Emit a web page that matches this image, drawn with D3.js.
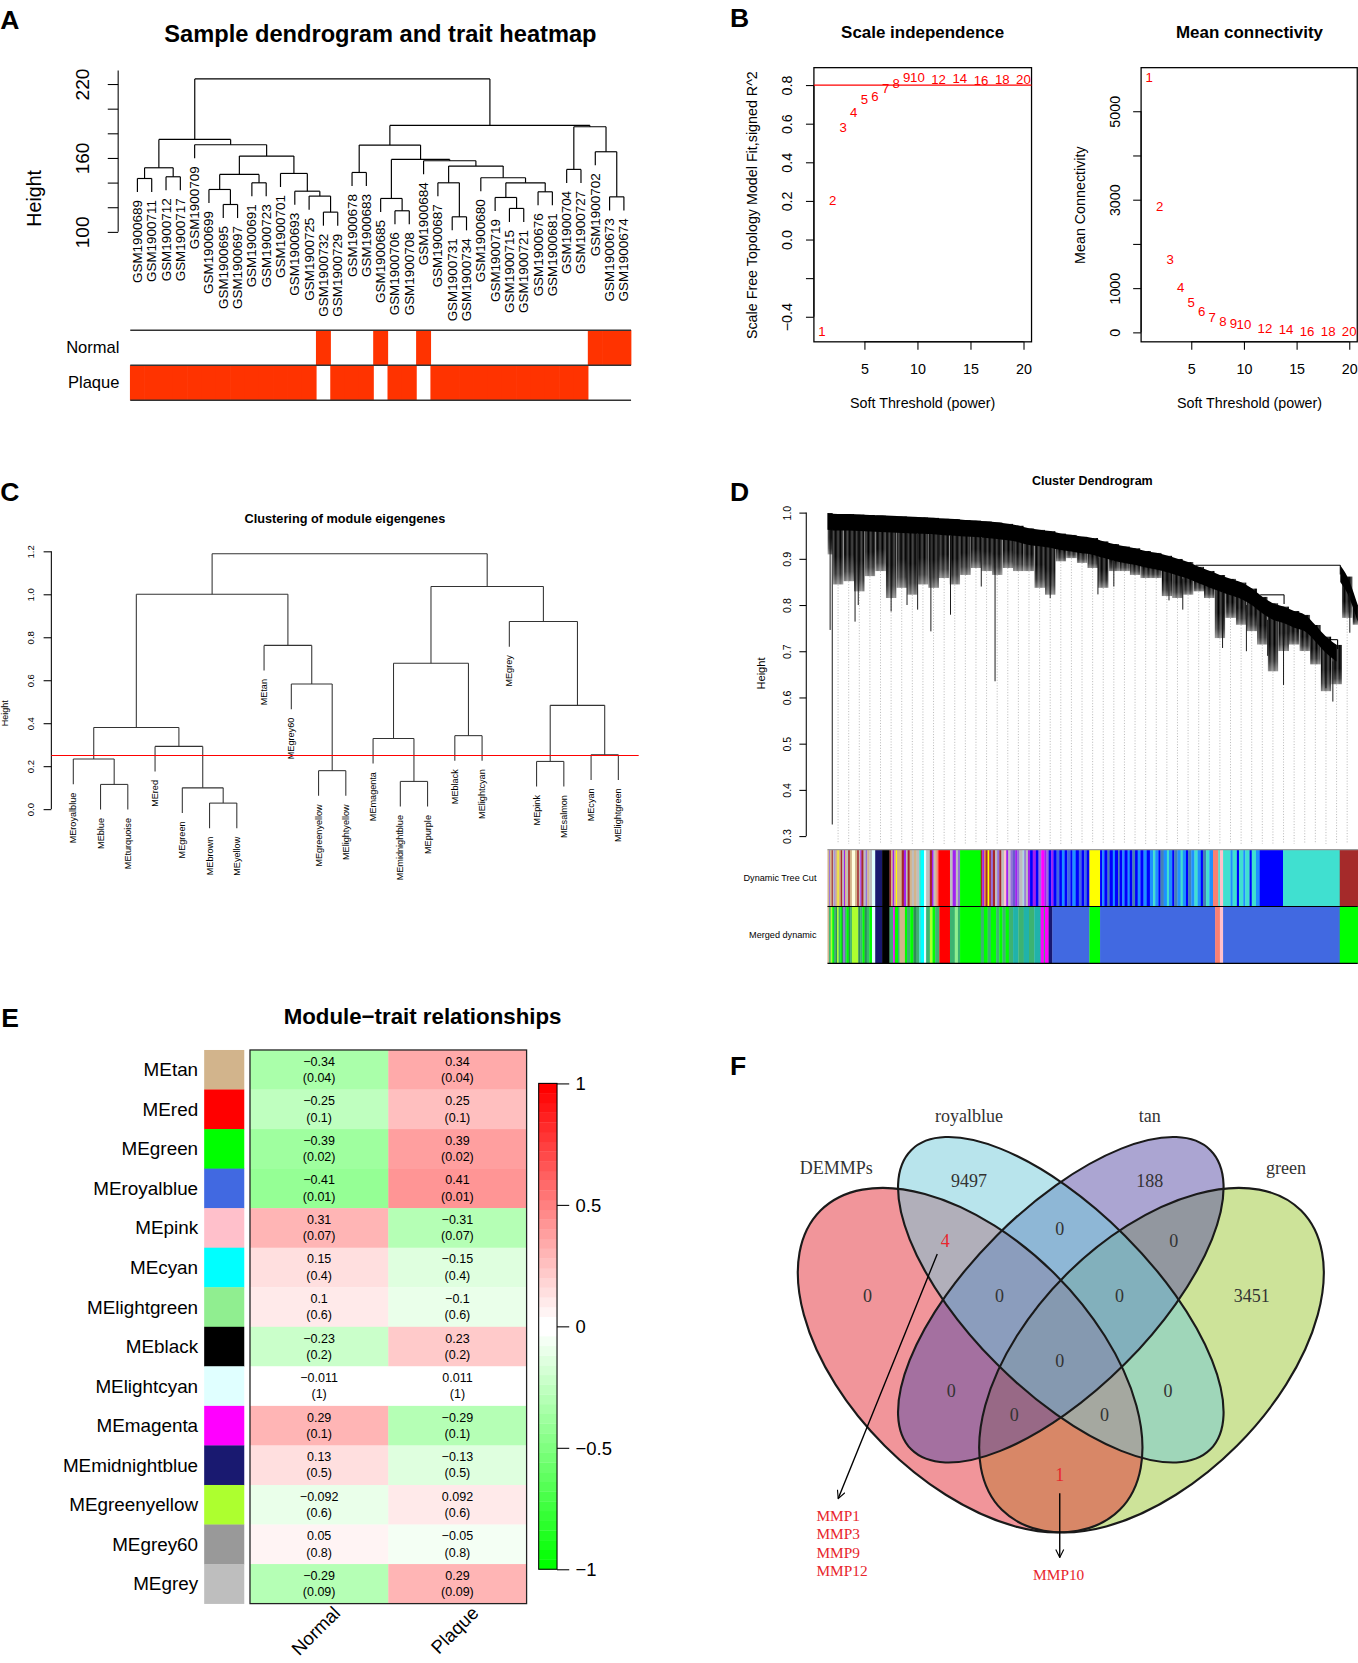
<!DOCTYPE html>
<html><head><meta charset="utf-8">
<script src="https://cdn.jsdelivr.net/npm/d3@7"></script>
<style>html,body{margin:0;padding:0;background:#fff}svg{display:block}</style>
</head><body>
<script>
// ================= DATA =================
// Panel A: sample dendrogram
const sampleLabels=['GSM1900689','GSM1900711','GSM1900712','GSM1900717','GSM1900709','GSM1900699','GSM1900695','GSM1900697','GSM1900691','GSM1900723','GSM1900701','GSM1900693','GSM1900725','GSM1900732','GSM1900729','GSM1900678','GSM1900683','GSM1900685','GSM1900706','GSM1900708','GSM1900684','GSM1900687','GSM1900731','GSM1900734','GSM1900680','GSM1900719','GSM1900715','GSM1900721','GSM1900676','GSM1900681','GSM1900704','GSM1900727','GSM1900702','GSM1900673','GSM1900674'];
const sampleMerges=[[-1,-2],[-3,-4],[1,2],[-7,-8],[-6,4],[-9,-10],[5,6],[-14,-15],[-13,8],[-12,9],[-11,10],[7,11],[-5,12],[3,13],[-16,-17],[-19,-20],[-18,16],[-23,-24],[-22,18],[-27,-28],[-26,20],[-29,-30],[21,22],[-25,23],[19,24],[-21,25],[17,26],[15,27],[-31,-32],[-34,-35],[-33,30],[29,31],[28,32],[14,33]];
const sampleHeights=[143.3,144.7,152.0,122.2,134.4,139.8,146.6,116.0,129.0,133.0,147.4,161.5,170.7,175.0,148.2,117.1,127.1,112.2,139.8,119.0,127.9,132.5,139.8,143.9,153.4,157.7,158.8,170.4,150.7,128.4,165.0,185.3,186.4,224.1];
const sampleHang=11;
const sampleYTicks=[100,120,140,160,180,200,220];
const sampleYLabels=[100,160,220];
const traitNames=['Normal','Plaque'];
const sampleIsNormal=[0,0,0,0,0, 0,0,0,0,0, 0,0,0,1,0, 0,0,1,0,0, 1,0,0,0,0, 0,0,0,0,0, 0,0,1,1,1];

// Panel B: soft threshold
const powers=[1,2,3,4,5,6,7,8,9,10,12,14,16,18,20];
const sftR2=[-0.477,0.203,0.578,0.656,0.724,0.741,0.784,0.807,0.838,0.838,0.829,0.836,0.824,0.829,0.829];
const meanK=[5755,2847,1639,1020,680,468,332,242,189,166,76,53,30,15,15];
const r2Cut=0.8;
const powerTicks=[5,10,15,20];
const r2Ticks=[-0.4,-0.2,0,0.2,0.4,0.6,0.8];
const r2Labels=['−0.4',null,'0.0','0.2','0.4','0.6','0.8'];
const kTicks=[0,1000,2000,3000,4000,5000];
const kLabels=['0','1000',null,'3000',null,'5000'];

// Panel C: module eigengene clustering
const meLabels=['MEroyalblue','MEblue','MEturquoise','MEred','MEgreen','MEbrown','MEyellow','MEtan','MEgrey60','MEgreenyellow','MElightyellow','MEmagenta','MEmidnightblue','MEpurple','MEblack','MElightcyan','MEgrey','MEpink','MEsalmon','MEcyan','MElightgreen'];
const meMerges=[[-2,-3],[-1,1],[-6,-7],[-5,3],[-4,4],[2,5],[-10,-11],[-9,7],[-8,8],[6,9],[-13,-14],[-12,11],[-15,-16],[12,13],[-18,-19],[-20,-21],[15,16],[-17,17],[14,18],[10,19]];
const meHeights=[0.115,0.233,0.028,0.099,0.292,0.380,0.179,0.582,0.762,1.0,0.129,0.329,0.342,0.679,0.222,0.253,0.483,0.873,1.036,1.189];
const meHang=0.117;
const meCut=0.25;
const meTicks=[0,0.2,0.4,0.6,0.8,1.0,1.2];

// Panel D: gene dendrogram (envelope read at 51 leaf-order positions, 0..1000)
const dPos=[0,20,40,60,80,100,120,140,160,180,200,220,240,260,280,300,320,340,360,380,400,420,440,460,480,500,520,540,560,580,600,620,640,660,680,700,720,740,760,780,800,820,840,860,880,900,920,940,960,980,1000];
const dTreeTop=[0.999,0.997,0.997,0.996,0.995,0.994,0.993,0.992,0.991,0.990,0.989,0.987,0.986,0.984,0.983,0.981,0.979,0.976,0.972,0.966,0.963,0.960,0.955,0.952,0.948,0.945,0.938,0.932,0.927,0.923,0.917,0.913,0.907,0.900,0.893,0.883,0.874,0.865,0.857,0.849,0.836,0.818,0.804,0.797,0.787,0.779,0.757,0.732,0.714,0.862,0.800];
const dTreeBottom=[0.909,0.844,0.851,0.829,0.862,0.873,0.815,0.837,0.822,0.844,0.837,0.858,0.844,0.865,0.880,0.873,0.865,0.880,0.873,0.873,0.837,0.822,0.894,0.901,0.891,0.880,0.837,0.873,0.873,0.865,0.858,0.858,0.819,0.815,0.822,0.829,0.815,0.728,0.772,0.757,0.743,0.714,0.656,0.700,0.714,0.700,0.671,0.613,0.628,0.772,0.757];
const dClusterStart=49; // first sample of the right-most cluster
const dSpikes=[[9,0.325],[5,0.746],[52,0.764],[58,0.80],[120,0.786],[150,0.80],[170,0.79],[195,0.743],[232,0.779],[290,0.84],[316,0.635],[420,0.815],[510,0.823],[540,0.84],[644,0.81],[670,0.79],[745,0.707],[790,0.70],[830,0.69],[860,0.627],[940,0.62],[953,0.591],[985,0.74]];
const dMerges=[[694,967,0.886],[816,861,0.822],[944,962,0.725]];
const dTicks=[0.3,0.4,0.5,0.6,0.7,0.8,0.9,1.0];
const dRowNames=['Dynamic Tree Cut','Merged dynamic'];
const dynamicCut=[[3,'tan'],[5,'mediumpurple'],[8,'tan'],[10,'brown'],[13,'grey'],[15,'mediumpurple'],[19,'tan'],[21,'yellow'],[25,'tan'],[28,'brown'],[31,'grey'],[33,'purple'],[36,'tan'],[39,'grey'],[42,'brown'],[46,'tan'],[52,'lightyellow'],[56,'tan'],[59,'brown'],[62,'grey'],[64,'purple'],[68,'brown'],[72,'grey'],[75,'mediumpurple'],[79,'tan'],[84,'grey'],[90,'lightcyan'],[103,'midnightblue'],[117,'black'],[120,'brown'],[123,'tan'],[126,'purple'],[129,'tan'],[131,'yellow'],[140,'tan'],[144,'brown'],[148,'purple'],[151,'grey'],[155,'brown'],[159,'tan'],[163,'grey'],[168,'tan'],[173,'grey'],[176,'turquoise'],[182,'cyan'],[186,'lightcyan'],[193,'grey'],[197,'brown'],[200,'purple'],[203,'grey'],[206,'tan'],[209,'salmon'],[231,'red'],[236,'grey'],[242,'purple'],[246,'grey'],[250,'mediumpurple'],[289,'green'],[292,'brown'],[296,'purple'],[298,'orange'],[302,'brown'],[305,'yellow'],[308,'brown'],[312,'mediumpurple'],[316,'brown'],[320,'grey'],[324,'mediumpurple'],[328,'brown'],[333,'grey'],[337,'pink'],[341,'purple'],[345,'grey'],[349,'mediumpurple'],[354,'slateblue'],[358,'purple'],[362,'mediumpurple'],[368,'grey'],[371,'lightblue'],[374,'mediumpurple'],[378,'grey'],[382,'purple'],[387,'blue'],[393,'purple'],[398,'blue'],[403,'mediumpurple'],[409,'magenta'],[413,'purple'],[417,'mediumpurple'],[422,'blue'],[426,'purple'],[432,'blue'],[437,'royalblue'],[442,'blue'],[447,'dodgerblue'],[452,'blue'],[458,'royalblue'],[462,'blue'],[468,'dodgerblue'],[474,'blue'],[479,'royalblue'],[484,'blue'],[489,'royalblue'],[494,'blue'],[514,'yellow'],[518,'blue'],[522,'dodgerblue'],[528,'blue'],[532,'steelblue'],[538,'blue'],[542,'dodgerblue'],[548,'blue'],[551,'steelblue'],[556,'blue'],[560,'dodgerblue'],[566,'blue'],[570,'dodgerblue'],[575,'blue'],[580,'steelblue'],[585,'blue'],[590,'dodgerblue'],[596,'blue'],[602,'dodgerblue'],[608,'blue'],[614,'dodgerblue'],[618,'turquoise'],[624,'dodgerblue'],[628,'blue'],[634,'steelblue'],[640,'dodgerblue'],[644,'turquoise'],[650,'dodgerblue'],[654,'blue'],[660,'steelblue'],[666,'dodgerblue'],[670,'turquoise'],[676,'dodgerblue'],[680,'blue'],[686,'steelblue'],[692,'dodgerblue'],[698,'turquoise'],[704,'dodgerblue'],[708,'blue'],[714,'steelblue'],[720,'turquoise'],[727,'dodgerblue'],[737,'salmon'],[740,'turquoise'],[746,'pink'],[760,'turquoise'],[764,'dodgerblue'],[772,'turquoise'],[776,'blue'],[784,'turquoise'],[788,'dodgerblue'],[796,'turquoise'],[800,'blue'],[808,'turquoise'],[815,'dodgerblue'],[859,'blue'],[966,'turquoise'],[1000,'brown']];
const mergedDynamic=[[3,'tan'],[6,'mediumseagreen'],[9,'greenyellow'],[12,'green'],[15,'mediumseagreen'],[18,'seagreen'],[21,'greenyellow'],[24,'mediumseagreen'],[27,'green'],[30,'seagreen'],[33,'mediumpurple'],[36,'mediumseagreen'],[40,'green'],[43,'seagreen'],[46,'mediumseagreen'],[58,'greenyellow'],[62,'seagreen'],[66,'mediumseagreen'],[70,'green'],[74,'seagreen'],[79,'mediumseagreen'],[84,'green'],[90,'lightcyan'],[103,'midnightblue'],[117,'black'],[124,'mediumseagreen'],[127,'magenta'],[133,'green'],[136,'mediumseagreen'],[146,'tan'],[150,'green'],[156,'mediumseagreen'],[162,'green'],[168,'seagreen'],[173,'mediumseagreen'],[176,'turquoise'],[182,'cyan'],[186,'lightcyan'],[193,'mediumseagreen'],[198,'greenyellow'],[203,'green'],[211,'mediumseagreen'],[231,'red'],[240,'mediumseagreen'],[246,'lightgreen'],[250,'mediumseagreen'],[289,'green'],[295,'mediumseagreen'],[302,'green'],[308,'mediumseagreen'],[318,'green'],[324,'mediumseagreen'],[330,'green'],[336,'mediumseagreen'],[342,'green'],[350,'mediumseagreen'],[360,'lightseagreen'],[370,'mediumseagreen'],[380,'lightseagreen'],[390,'mediumseagreen'],[402,'lightseagreen'],[408,'magenta'],[410,'mediumseagreen'],[417,'magenta'],[424,'midnightblue'],[494,'royalblue'],[514,'green'],[731,'royalblue'],[740,'salmon'],[746,'pink'],[966,'royalblue'],[1000,'green']];

// Panel E: module-trait relationships
const eModules=['MEtan','MEred','MEgreen','MEroyalblue','MEpink','MEcyan','MElightgreen','MEblack','MElightcyan','MEmagenta','MEmidnightblue','MEgreenyellow','MEgrey60','MEgrey'];
const eModuleColors=['tan','red','green','royalblue','pink','cyan','lightgreen','black','lightcyan','magenta','midnightblue','greenyellow','grey60','grey'];
const eTraits=['Normal','Plaque'];
const corNormal=[-0.34,-0.25,-0.39,-0.41,0.31,0.15,0.1,-0.23,-0.011,0.29,0.13,-0.092,0.05,-0.29];
const corPlaque=[0.34,0.25,0.39,0.41,-0.31,-0.15,-0.1,0.23,0.011,-0.29,-0.13,0.092,-0.05,0.29];
const pValues=[0.04,0.1,0.02,0.01,0.07,0.4,0.6,0.2,1,0.1,0.5,0.6,0.8,0.09];
const legendTicks=[1,0.5,0,-0.5,-1];

// Panel F: Venn
const vennSets=['DEMMPs','royalblue','tan','green'];
const vennCounts={DEMMPs:0,royalblue:9497,tan:188,green:3451,'D&R':4,'R&T':0,'T&G':0,'D&R&T':0,'R&T&G':0,'all':0,'D&T':0,'R&G':0,'D&T&G':0,'D&R&G':0,'D&G':1};
const vennGenesDR=['MMP1','MMP3','MMP9','MMP12'];
const vennGenesDG=['MMP10'];

// ================= RENDER =================
const SANS="'Liberation Sans', Arial, Helvetica, sans-serif";
const SERIF="'Liberation Serif', 'Times New Roman', Times, serif";
const RCOL={green:'#00ff00',grey:'#bebebe',purple:'#a020f0',grey60:'#999999'};
const rc=c=>RCOL[c]||c;
const W=1280,H=1568;
const svg=d3.select('body').append('svg').attr('width',1358).attr('height',1663)
  .attr('viewBox',`0 0 ${W} ${H}`).style('font-family',SANS);
svg.append('rect').attr('width',W).attr('height',H).attr('fill','#fff');
const defs=svg.append('defs');

function txt(g,x,y,t,o={}){
  const e=g.append('text').attr('x',x).attr('y',y).text(t)
    .attr('font-size',o.size||12).attr('font-family',o.family||SANS)
    .attr('fill',o.fill||'#000');
  if(o.bold) e.attr('font-weight','bold');
  if(o.anchor) e.attr('text-anchor',o.anchor);
  if(o.base) e.attr('dominant-baseline',o.base);
  if(o.rot!=null) e.attr('transform',`rotate(${o.rot},${x},${y})`);
  return e;
}
[['A',0,27],['B',688,25],['C',0,472],['D',688,472],['E',1,968],['F',688,1014]].forEach(([t,x,y])=>txt(svg,x,y,t,{size:25,bold:true}));

function rAxis(g,orient,scale,values,labels,tickLen,labelOffset,fontSize,lineExt){
  const gen=(orient==='left'?d3.axisLeft:d3.axisBottom)(scale).tickValues(values).tickSize(tickLen)
    .tickFormat((d,i)=>labels[i]==null?'':labels[i]);
  g.call(gen);
  g.select('.domain').remove();
  const ext=lineExt||d3.extent(values);
  if(orient==='left') g.append('line').attr('x1',0).attr('x2',0).attr('y1',scale(ext[0])).attr('y2',scale(ext[1])).attr('stroke','#000');
  else g.append('line').attr('y1',0).attr('y2',0).attr('x1',scale(ext[0])).attr('x2',scale(ext[1])).attr('stroke','#000');
  g.selectAll('.tick line').attr('stroke','#000');
  const t=g.selectAll('.tick text').attr('font-size',fontSize).attr('font-family',SANS).attr('fill','#000');
  if(orient==='left') t.attr('x',0).attr('dy',null).attr('text-anchor','middle').attr('dominant-baseline','central')
     .attr('transform',`translate(${-labelOffset},0) rotate(-90)`);
  else t.attr('y',labelOffset).attr('dy',null).attr('dominant-baseline','central');
}

function treeSegments(labels,merges,heights,xpos,hang){
  const nodes=[],segs=[],leafEnds=[];
  merges.forEach((m,k)=>{
    const h=heights[k];
    const ch=m.map(c=>c<0?{x:xpos(labels[-c-1]),h:h-hang,leaf:-c-1}:{x:nodes[c-1].x,h:nodes[c-1].h});
    ch.forEach(c=>{segs.push([c.x,c.h,c.x,h]); if(c.leaf!==undefined) leafEnds[c.leaf]={x:c.x,h:c.h};});
    segs.push([ch[0].x,h,ch[1].x,h]);
    nodes.push({x:(ch[0].x+ch[1].x)/2,h});
  });
  return {segs,leafEnds};
}

// ---------- Panel A ----------
{
  const g=svg.append('g');
  txt(g,358.5,39.5,'Sample dendrogram and trait heatmap',{size:22.3,bold:true,anchor:'middle'});
  const x=d3.scaleBand().domain(sampleLabels).range([122.6,594.8]);
  const xc=l=>x(l)+x.bandwidth()/2;
  const y=d3.scaleLinear().domain([100,220]).range([218.6,79.2]);
  const ax=g.append('g').attr('transform','translate(111.2,0)');
  rAxis(ax,'left',y,sampleYTicks,sampleYTicks.map(v=>sampleYLabels.includes(v)?String(v):null),9.8,33.5,18,[100,231]);
  txt(g,31.5,187,'Height',{size:18.5,anchor:'middle',base:'central',rot:-90});
  const {segs,leafEnds}=treeSegments(sampleLabels,sampleMerges,sampleHeights,xc,sampleHang);
  g.append('g').selectAll('line').data(segs).join('line')
    .attr('x1',d=>d[0]).attr('y1',d=>y(d[1])).attr('x2',d=>d[2]).attr('y2',d=>y(d[3]))
    .attr('stroke','#000').attr('stroke-width',1.1);
  sampleLabels.forEach((l,i)=>{
    const e=leafEnds[i];
    txt(g,e.x,y(e.h)+7.5,l,{size:12.7,anchor:'end',base:'central',rot:-90});
  });
  const yt=d3.scaleBand().domain(traitNames).range([311.3,377.4]);
  sampleLabels.forEach((l,i)=>{
    traitNames.forEach((t,j)=>{
      const on=(j===0)===(sampleIsNormal[i]===1);
      if(on) g.append('rect').attr('x',x(l)-0.3).attr('y',yt(t)).attr('width',x.bandwidth()+0.6).attr('height',yt.bandwidth())
        .attr('fill','#ff3300');
    });
  });
  [311.3,344.35,377.4].forEach(v=>g.append('line').attr('x1',122.6).attr('x2',594.8).attr('y1',v).attr('y2',v).attr('stroke','#333').attr('stroke-width',1.4));
  traitNames.forEach(t=>txt(g,112.4,yt(t)+yt.bandwidth()/2,t,{size:15.6,anchor:'end',base:'central'}));
}

// ---------- Panel B ----------
{
  const g=svg.append('g');
  const x1=d3.scaleLinear().domain([0.24,20.76]).range([767.2,972.4]);
  const y1=d3.scaleLinear().domain([-0.53,0.89]).range([322.3,63.8]);
  txt(g,869.7,36,'Scale independence',{size:16,bold:true,anchor:'middle'});
  g.append('rect').attr('x',767.2).attr('y',63.8).attr('width',205.2).attr('height',258.5).attr('fill','none').attr('stroke','#000').attr('stroke-width',1.2);
  rAxis(g.append('g').attr('transform','translate(0,322.3)'),'bottom',x1,powerTicks,powerTicks.map(String),7.5,25.2,13.5);
  rAxis(g.append('g').attr('transform','translate(767.2,0)'),'left',y1,r2Ticks,r2Labels,7.5,25.5,13.5);
  txt(g,869.7,385,'Soft Threshold (power)',{size:13.5,anchor:'middle'});
  txt(g,709,193.4,'Scale Free Topology Model Fit,signed R^2',{size:13.5,anchor:'middle',base:'central',rot:-90});
  g.append('line').attr('x1',767.2).attr('x2',972.4).attr('y1',y1(r2Cut)).attr('y2',y1(r2Cut)).attr('stroke','#ff0000').attr('stroke-width',1.2);
  powers.forEach((p,i)=>txt(g,x1(p),y1(sftR2[i]),String(p),{size:12.5,fill:'#ff0000',anchor:'middle',base:'central'}));
  const x2=d3.scaleLinear().domain([0.24,20.76]).range([1075.7,1279.5]);
  const y2=d3.scaleLinear().domain([-214.6,5984.6]).range([322.3,63.8]);
  txt(g,1177.9,36,'Mean connectivity',{size:16,bold:true,anchor:'middle'});
  g.append('rect').attr('x',1075.7).attr('y',63.8).attr('width',203.8).attr('height',258.5).attr('fill','none').attr('stroke','#000').attr('stroke-width',1.2);
  rAxis(g.append('g').attr('transform','translate(0,322.3)'),'bottom',x2,powerTicks,powerTicks.map(String),7.5,25.2,13.5);
  rAxis(g.append('g').attr('transform','translate(1075.7,0)'),'left',y2,kTicks,kLabels,7.5,24.8,13.5);
  txt(g,1177.9,385,'Soft Threshold (power)',{size:13.5,anchor:'middle'});
  txt(g,1018,193.4,'Mean Connectivity',{size:13.5,anchor:'middle',base:'central',rot:-90});
  powers.forEach((p,i)=>txt(g,x2(p),y2(meanK[i]),String(p),{size:12.5,fill:'#ff0000',anchor:'middle',base:'central'}));
}

// ---------- Panel C ----------
{
  const g=svg.append('g');
  txt(g,325,492.8,'Clustering of module eigengenes',{size:12,bold:true,anchor:'middle'});
  const x=d3.scalePoint().domain(meLabels).range([68.9,582.8]);
  const y=d3.scaleLinear().domain([0,1.2]).range([762.9,519.8]);
  rAxis(g.append('g').attr('transform','translate(48.2,0)'),'left',y,meTicks,meTicks.map(v=>v.toFixed(1)),7.3,19.6,9);
  txt(g,4.5,672.6,'Height',{size:8.5,anchor:'middle',base:'central',rot:-90});
  const {segs,leafEnds}=treeSegments(meLabels,meMerges,meHeights,l=>x(l),meHang);
  g.append('g').selectAll('line').data(segs).join('line')
    .attr('x1',d=>d[0]).attr('y1',d=>y(d[1])).attr('x2',d=>d[2]).attr('y2',d=>y(d[3]))
    .attr('stroke','#333').attr('stroke-width',1);
  meLabels.forEach((l,i)=>{const e=leafEnds[i]; txt(g,e.x,y(e.h)+8,l,{size:8.6,anchor:'end',base:'central',rot:-90});});
  g.append('line').attr('x1',48.2).attr('x2',602).attr('y1',y(meCut)).attr('y2',y(meCut)).attr('stroke','#ff0000').attr('stroke-width',1);
}

// ---------- Panel D ----------
{
  const g=svg.append('g');
  txt(g,1029.7,457.6,'Cluster Dendrogram',{size:11.8,bold:true,anchor:'middle'});
  const x=d3.scaleLinear().domain([0,1000]).range([780,1280]);
  const y=d3.scaleLinear().domain([0.3,1.0]).range([788.3,483.3]);
  rAxis(g.append('g').attr('transform','translate(760,0)'),'left',y,dTicks,dTicks.map(v=>v.toFixed(1)),6.5,18,10);
  txt(g,717,635,'Height',{size:10.5,anchor:'middle',base:'central',rot:-90});
  dPos.forEach((u,i)=>{ if(i===0||i===dPos.length-1) return;
    g.append('line').attr('x1',x(u)).attr('x2',x(u)).attr('y1',y(dTreeBottom[i])).attr('y2',y(0.283))
      .attr('stroke','#b0b0b0').attr('stroke-width',0.8).attr('stroke-dasharray','1,1.6');
  });
  const pat=defs.append('pattern').attr('id','dStripes').attr('patternUnits','userSpaceOnUse').attr('width',1.2).attr('height',20);
  pat.append('rect').attr('x',0).attr('y',0).attr('width',1.02).attr('height',20).attr('fill','#000');
  const grad=defs.append('linearGradient').attr('id','dFade').attr('x1',0).attr('y1',0).attr('x2',0).attr('y2',1);
  [[0,1],[0.6,1],[0.85,0.8],[1,0.5]].forEach(([o,op])=>grad.append('stop').attr('offset',o).attr('stop-color','#fff').attr('stop-opacity',op));
  defs.append('mask').attr('id','dMask').attr('maskContentUnits','objectBoundingBox')
    .append('rect').attr('width',1).attr('height',1).attr('fill','url(#dFade)');
  dPos.forEach((u,i)=>{
    const u0=i===0?0:u-10, u1=i===dPos.length-1?1000:u+10;
    const a=Math.max(u0,i===dClusterStart?dMerges[0][1]:u0);
    g.append('rect').attr('x',x(a)).attr('width',x(u1)-x(a)+0.1).attr('y',y(dTreeTop[i])).attr('height',y(dTreeBottom[i])-y(dTreeTop[i]))
      .attr('fill','url(#dStripes)').attr('mask','url(#dMask)');
  });
  const band=0.036;
  const left=dPos.slice(0,dClusterStart).map((u,i)=>({u,t:dTreeTop[i]}));
  const right=[{u:dMerges[0][1],t:dMerges[0][2]}].concat(dPos.slice(dClusterStart).map((u,k)=>({u,t:dTreeTop[dClusterStart+k]})));
  const bandArea=d3.area().x(d=>x(d.u)).y0(d=>y(d.t)).y1(d=>y(d.t-band)).curve(d3.curveMonotoneX);
  [left,right].forEach(seg=>g.append('path').datum(seg).attr('d',bandArea).attr('fill','#000'));
  dSpikes.forEach(([u,h])=>{
    const i=Math.round(u/20);
    g.append('line').attr('x1',x(u)).attr('x2',x(u)).attr('y1',y(dTreeTop[i]-band)).attr('y2',y(h)).attr('stroke','#111').attr('stroke-width',0.9);
  });
  dMerges.forEach(([a,b,h])=>{
    g.append('line').attr('x1',x(a)).attr('x2',x(b)).attr('y1',y(h)).attr('y2',y(h)).attr('stroke','#000').attr('stroke-width',1);
    g.append('line').attr('x1',x(b)).attr('x2',x(b)).attr('y1',y(h)).attr('y2',y(h-0.02)).attr('stroke','#000').attr('stroke-width',1);
  });
  const yr=d3.scaleBand().domain(dRowNames).range([801,908.4]);
  [[dynamicCut,dRowNames[0]],[mergedDynamic,dRowNames[1]]].forEach(([segs,row])=>{
    let prev=0;
    segs.forEach(([end,col])=>{
      g.append('rect').attr('x',x(prev)).attr('y',yr(row)).attr('width',Math.max(0,x(end)-x(prev))+0.25).attr('height',yr.bandwidth())
        .attr('fill',rc(col));
      prev=end;
    });
    txt(g,769.6,yr(row)+yr.bandwidth()/2,row,{size:8.6,anchor:'end',base:'central'});
  });
  g.append('line').attr('x1',780).attr('x2',1280).attr('y1',801).attr('y2',801).attr('stroke','#999').attr('stroke-width',1.2);
  g.append('line').attr('x1',780).attr('x2',1280).attr('y1',854.7).attr('y2',854.7).attr('stroke','#000').attr('stroke-width',1);
  g.append('line').attr('x1',780).attr('x2',1280).attr('y1',908.4).attr('y2',908.4).attr('stroke','#000').attr('stroke-width',1.2);
}

// ---------- Panel E ----------
{
  const g=svg.append('g');
  txt(g,398.2,965.8,'Module−trait relationships',{size:21,bold:true,anchor:'middle'});
  const y=d3.scaleBand().domain(eModules).range([990,1512]);
  const x=d3.scaleBand().domain(eTraits).range([235.5,496.3]);
  const pal=v=>{const n=50,h=25;let i=Math.floor((v+1)/2*n);i=Math.max(0,Math.min(n-1,i));
    return i<h?d3.interpolateRgb('#00ff00','#ffffff')(i/(h-1)):d3.interpolateRgb('#ffffff','#ff0000')((i-h)/(h-1));};
  const fmt=v=>String(v).replace('-','−');
  eModules.forEach((m,i)=>{
    g.append('rect').attr('x',192.3).attr('y',y(m)).attr('width',37.8).attr('height',y.bandwidth()+0.3).attr('fill',rc(eModuleColors[i]));
    txt(g,186.6,y(m)+y.bandwidth()/2,m,{size:17.8,anchor:'end',base:'central'});
    [[eTraits[0],corNormal[i]],[eTraits[1],corPlaque[i]]].forEach(([t,v])=>{
      g.append('rect').attr('x',x(t)).attr('y',y(m)).attr('width',x.bandwidth()+0.3).attr('height',y.bandwidth()+0.3).attr('fill',pal(v));
      const cx=x(t)+x.bandwidth()/2, cy=y(m)+y.bandwidth()/2;
      txt(g,cx,cy-7.6,fmt(v),{size:11.8,anchor:'middle',base:'central'});
      txt(g,cx,cy+7.8,'('+fmt(pValues[i])+')',{size:11.8,anchor:'middle',base:'central'});
    });
  });
  g.append('rect').attr('x',235.5).attr('y',990).attr('width',260.8).attr('height',522).attr('fill','none').attr('stroke','#222').attr('stroke-width',1.2);
  eTraits.forEach(t=>{
    const cx=x(t)+x.bandwidth()/2;
    txt(g,cx+21,1522,t,{size:17.5,anchor:'end',rot:-45});
  });
  const yl=d3.scaleLinear().domain([-1,1]).range([1479.6,1021.5]);
  for(let k=0;k<50;k++){
    const v0=-1+k*0.04, v1=v0+0.04;
    g.append('rect').attr('x',507.7).attr('y',yl(v1)).attr('width',17.3).attr('height',yl(v0)-yl(v1)+0.3).attr('fill',pal(v0+0.02));
  }
  g.append('rect').attr('x',507.7).attr('y',1021.5).attr('width',17.3).attr('height',458.1).attr('fill','none').attr('stroke','#000').attr('stroke-width',1);
  const la=g.append('g').attr('transform','translate(525,0)').call(d3.axisRight(yl).tickValues(legendTicks).tickSize(11.5).tickPadding(6).tickFormat(fmt));
  la.select('.domain').remove();
  la.selectAll('.tick line').attr('stroke','#000');
  la.selectAll('.tick text').attr('font-size',17.4).attr('font-family',SANS).attr('fill','#000').attr('dy',null).attr('dominant-baseline','central');
}

// ---------- Panel F ----------
{
  const g=svg.append('g');
  const S=570, X=u=>1000+(u-0.5)*S, Y=u=>1282.5-(u-0.47)*S;
  const shapes={DEMMPs:{cx:0.35,cy:0.47,a:0.35,b:0.20,rot:45,fill:'rgb(227,43,53)'},
                royalblue:{cx:0.5,cy:0.57,a:0.35,b:0.15,rot:45,fill:'rgb(113,201,217)'},
                tan:{cx:0.5,cy:0.57,a:0.35,b:0.15,rot:-45,fill:'rgb(87,75,165)'},
                green:{cx:0.65,cy:0.47,a:0.35,b:0.20,rot:-45,fill:'rgb(155,199,51)'}};
  const order=['green','DEMMPs','tan','royalblue'];
  const ell=(s)=>{const e=shapes[s];return g.append('ellipse').attr('cx',X(e.cx)).attr('cy',Y(e.cy)).attr('rx',e.a*S).attr('ry',e.b*S)
    .attr('transform',`rotate(${e.rot},${X(e.cx)},${Y(e.cy)})`);};
  order.forEach(s=>ell(s).attr('fill',shapes[s].fill).attr('fill-opacity',0.5).attr('stroke','none'));
  vennSets.forEach(s=>ell(s).attr('fill','none').attr('stroke','#1a1a1a').attr('stroke-width',2));
  const setPos={DEMMPs:[788.3,1101],royalblue:[913.4,1052],tan:[1083.8,1052],green:[1212.4,1101.5]};
  vennSets.forEach(s=>txt(g,setPos[s][0],setPos[s][1],s,{size:17,family:SERIF,anchor:'middle',base:'central',fill:'#333'}));
  const regPos={DEMMPs:[817.8,1221.7],royalblue:[913.4,1114],tan:[1083.8,1114],green:[1180.1,1221.7],'D&R':[891.1,1170.5],'R&T':[999,1158.8],'T&G':[1106.4,1170.5],'D&R&T':[942.1,1221.7],'R&T&G':[1055.4,1221.7],'all':[999,1283.3],'D&T':[896.8,1312],'R&G':[1101,1312],'D&T&G':[956.2,1334.5],'D&R&G':[1041.3,1334.5],'D&G':[999,1391]};
  const redRegions=['D&R','D&G'];
  Object.keys(vennCounts).forEach(k=>{
    txt(g,regPos[k][0],regPos[k][1],String(vennCounts[k]),{size:17,family:SERIF,anchor:'middle',base:'central',fill:redRegions.includes(k)?'#e8262d':'#333'});
  });
  defs.append('marker').attr('id','arr').attr('viewBox','0 0 12 12').attr('refX',11).attr('refY',6)
    .attr('markerWidth',9).attr('markerHeight',9).attr('markerUnits','userSpaceOnUse').attr('orient','auto')
    .append('path').attr('d','M1,1 L11,6 L1,11').attr('fill','none').attr('stroke','#000').attr('stroke-width',1.4);
  g.append('line').attr('x1',883.5).attr('y1',1182.3).attr('x2',790.1).attr('y2',1413).attr('stroke','#000').attr('stroke-width',1.3).attr('marker-end','url(#arr)');
  g.append('line').attr('x1',999).attr('y1',1407.9).attr('x2',999).attr('y2',1468.5).attr('stroke','#000').attr('stroke-width',1.3).attr('marker-end','url(#arr)');
  vennGenesDR.forEach((m,i)=>txt(g,769.6,1429+i*17.3,m,{size:14.5,family:SERIF,base:'central',fill:'#e8262d'}));
  vennGenesDG.forEach((m,i)=>txt(g,998,1484.3+i*17.3,m,{size:14.5,family:SERIF,anchor:'middle',base:'central',fill:'#e8262d'}));
}
</script>
</body></html>
